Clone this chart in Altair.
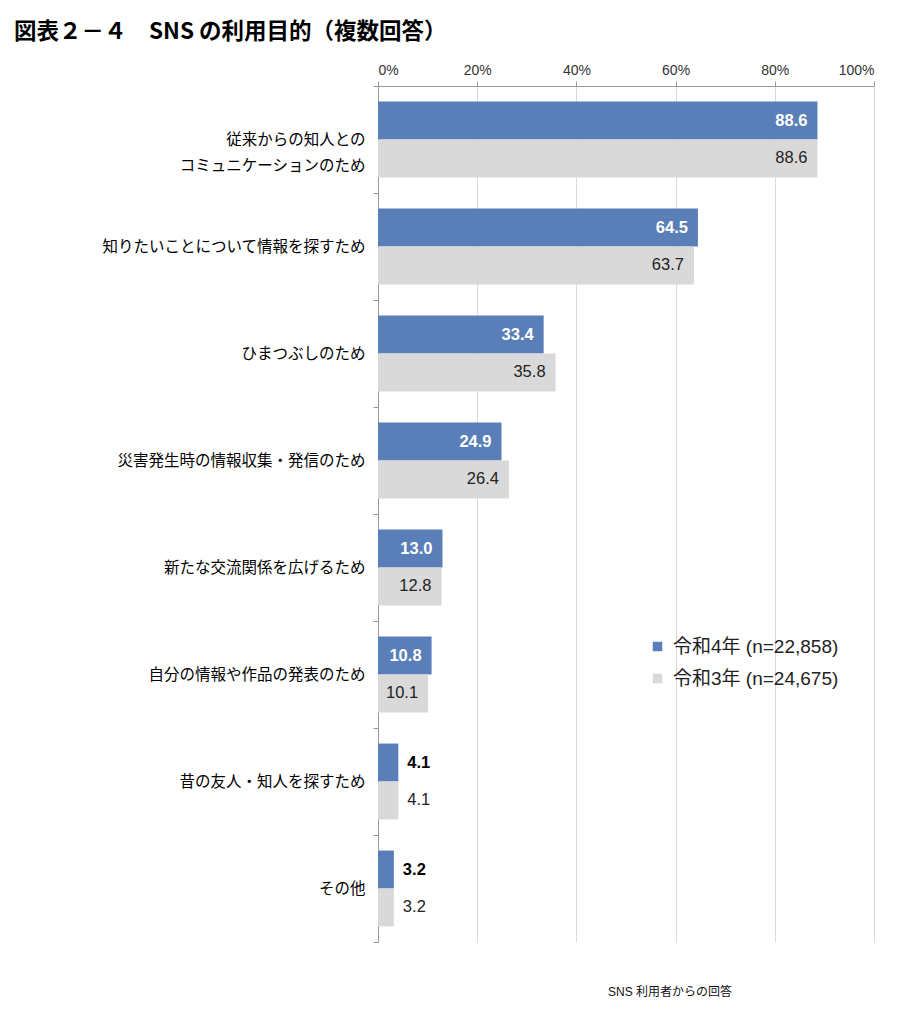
import altair as alt
import pandas as pd

categories = [
    "従来からの知人との\nコミュニケーションのため",
    "知りたいことについて情報を探すため",
    "ひまつぶしのため",
    "災害発生時の情報収集・発信のため",
    "新たな交流関係を広げるため",
    "自分の情報や作品の発表のため",
    "昔の友人・知人を探すため",
    "その他",
]
series = ["令和4年 (n=22,858)", "令和3年 (n=24,675)"]
values_r4 = [88.6, 64.5, 33.4, 24.9, 13.0, 10.8, 4.1, 3.2]
values_r3 = [88.6, 63.7, 35.8, 26.4, 12.8, 10.1, 4.1, 3.2]
x_ticks = [0, 20, 40, 60, 80, 100]
colors = ["#5a7fb8", "#d9d9d9"]
title_text = "図表２－４　SNS の利用目的（複数回答）"
caption_text = "SNS 利用者からの回答"

rows = []
for i, c in enumerate(categories):
    rows.append({"category": c, "series": series[0], "value": values_r4[i]})
    rows.append({"category": c, "series": series[1], "value": values_r3[i]})
df = pd.DataFrame(rows)

JP = "Noto Sans CJK JP"
LAT = "Liberation Sans, Noto Sans CJK JP"

y_enc = alt.Y(
    "category:N",
    sort=categories,
    scale=alt.Scale(paddingInner=0, paddingOuter=0),
    axis=alt.Axis(
        title=None,
        labelExpr="split(datum.label, '\\n')",
        labelFont=JP,
        labelFontSize=15.5,
        labelColor="#000",
        labelLineHeight=26,
        labelPadding=8,
        labelLimit=400,
        tickBand="extent",
        tickSize=5,
        tickColor="#999",
        domainColor="#999",
    ),
)
yoff_enc = alt.YOffset("series:N", sort=series, scale=alt.Scale(paddingInner=0, paddingOuter=0.41))
x_enc = alt.X(
    "value:Q",
    scale=alt.Scale(domain=[0, 100]),
    axis=alt.Axis(
        orient="top",
        values=x_ticks,
        labelExpr="datum.value + '%'",
        title=None,
        grid=True,
        gridColor="#d9d9d9",
        domainColor="#999",
        tickColor="#999",
        tickSize=5,
        labelFont=LAT,
        labelFontSize=14,
        labelColor="#333",
        labelPadding=4,
    ),
)

base = alt.Chart(df)

bars = base.mark_bar().encode(
    x=x_enc,
    y=y_enc,
    yOffset=yoff_enc,
    color=alt.Color(
        "series:N",
        sort=series,
        scale=alt.Scale(domain=series, range=colors),
        legend=alt.Legend(
            title=None,
            orient="none",
            legendX=270,
            legendY=551,
            symbolType="square",
            symbolSize=90,
            symbolStrokeWidth=0,
            labelFont=LAT,
            labelFontSize=19,
            labelColor="#222",
            labelLimit=400,
            rowPadding=12,
            labelOffset=6,
        ),
    ),
)


def text_layer(filter_expr, align, dx, color, weight):
    return base.transform_filter(filter_expr).mark_text(
        align=align,
        dx=dx,
        baseline="middle",
        font="Liberation Sans",
        fontSize=16.5,
        fontWeight=weight,
        color=color,
    ).encode(
        x="value:Q",
        y=alt.Y("category:N", sort=categories),
        yOffset=alt.YOffset("series:N", sort=series),
        text=alt.Text("value:Q", format=".1f"),
    )


s0 = series[0]
s1 = series[1]
t1 = text_layer(f"datum.series == '{s0}' && datum.value >= 8", "right", -10, "white", "bold")
t2 = text_layer(f"datum.series == '{s1}' && datum.value >= 8", "right", -10, "#222", "normal")
t3 = text_layer(f"datum.series == '{s0}' && datum.value < 8", "left", 9, "#000", "bold")
t4 = text_layer(f"datum.series == '{s1}' && datum.value < 8", "left", 9, "#222", "normal")

caption = alt.Chart(pd.DataFrame({"t": [caption_text]})).mark_text(
    font=LAT, fontSize=12, color="#111", align="center", baseline="middle"
).encode(text="t:N", x=alt.value(292), y=alt.value(906))

chart = alt.layer(bars, t1, t2, t3, t4, caption).properties(
    width=496,
    height=856,
    title=alt.TitleParams(
        title_text,
        anchor="start",
        frame="group",
        dx=-364,
        offset=20,
        font=JP,
        fontSize=22.5,
        fontWeight="bold",
        color="#000",
    ),
    autosize=alt.AutoSizeParams(type="none"),
    padding={"left": 370, "top": 78, "right": 30, "bottom": 70},
).configure_view(stroke=None)

chart.save("out.html", embed_options={"renderer": "svg", "actions": False})
